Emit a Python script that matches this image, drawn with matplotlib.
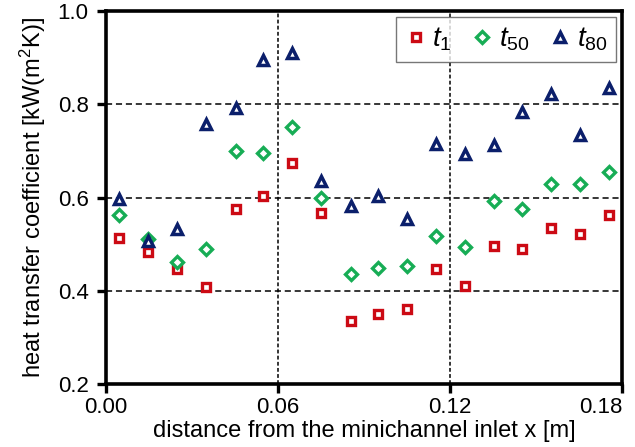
import matplotlib
matplotlib.use('Agg')
import matplotlib.pyplot as plt
from matplotlib.transforms import ScaledTranslation

plt.rcParams['font.family'] = ['Liberation Sans', 'DejaVu Sans']
plt.rcParams['mathtext.fontset'] = 'custom'
plt.rcParams['mathtext.it'] = 'Liberation Sans:italic'
plt.rcParams['mathtext.rm'] = 'Liberation Sans'

# distance from inlet [m]
x = [0.0047, 0.0148, 0.0249, 0.0350, 0.0452, 0.0546, 0.0649, 0.0751, 0.0853,
     0.0948, 0.1050, 0.1151, 0.1252, 0.1354, 0.1451, 0.1551, 0.1652, 0.1754]

# heat transfer coefficient [kW/(m2K)]
t1 = [0.514, 0.483, 0.446, 0.409, 0.576, 0.603, 0.675, 0.566, 0.336,
      0.350, 0.360, 0.446, 0.411, 0.496, 0.490, 0.534, 0.521, 0.562]
t50 = [0.562, 0.510, 0.461, 0.489, 0.699, 0.695, 0.751, 0.599, 0.436,
       0.449, 0.454, 0.518, 0.493, 0.592, 0.575, 0.629, 0.629, 0.654]
t80 = [0.597, 0.506, 0.532, 0.758, 0.793, 0.895, 0.910, 0.635, 0.582,
       0.604, 0.553, 0.715, 0.694, 0.712, 0.783, 0.821, 0.733, 0.834]

xticks = [0.00, 0.06, 0.12, 0.18]
yticks = [0.2, 0.4, 0.6, 0.8, 1.0]

fig = plt.figure(figsize=(6.35, 4.47), dpi=100)
ax = fig.add_axes([106 / 635, 1 - 384 / 447, 516 / 635, 373 / 447])

ax.plot(x, t1, 's', ms=5.6, mfc='white', mec='#CC0A14', mew=2.4, label='$t_1$', zorder=3)
ax.plot(x, t50, 'D', ms=5.8, mfc='white', mec='#17AD55', mew=2.4, label='$t_{50}$', zorder=3)
ax.plot(x, t80, '^', ms=7.5, mfc='white', mec='#0B1F6B', mew=2.5, label='$t_{80}$', zorder=3)

ax.set_xlim(0, 0.18)
ax.set_ylim(0.2, 1.0)
ax.set_xticks(xticks)
ax.set_xticklabels(['%.2f' % v for v in xticks])
ax.set_yticks(yticks)
ax.set_yticklabels(['%.1f' % v for v in yticks])

# first and last x labels sit inside the axis ends, as in the original
labels = ax.get_xticklabels()
labels[0].set_transform(labels[0].get_transform() + ScaledTranslation(6 / 100, 0, fig.dpi_scale_trans))
labels[-1].set_horizontalalignment('right')
labels[-1].set_transform(labels[-1].get_transform() + ScaledTranslation(1 / 100, 0, fig.dpi_scale_trans))

for v in [0.4, 0.6, 0.8]:
    ax.axhline(v, color='black', lw=1.1, ls=(0, (4, 2.5)), zorder=1)
for v in [0.06, 0.12]:
    ax.axvline(v, color='black', lw=1.1, ls=(0, (2.5, 1.5)), zorder=1)

for s in ax.spines.values():
    s.set_linewidth(2.6)
ax.tick_params(direction='out', length=6.5, width=2.4, labelsize=16)
ax.tick_params(axis='y', pad=6)
ax.tick_params(axis='x', pad=3)

ax.set_xlabel('distance from the minichannel inlet x [m]', fontsize=17, labelpad=1)
ax.set_ylabel('heat transfer coefficient [kW(m$^2$K)]', fontsize=17, labelpad=7)

leg = ax.legend(loc='upper right', ncol=3, fontsize=20, frameon=True, fancybox=False,
                handletextpad=0.2, columnspacing=0.7, handlelength=0.8,
                borderpad=0.3, borderaxespad=0, bbox_to_anchor=(0.988, 0.983))
leg.get_frame().set_edgecolor('#555555')
leg.get_frame().set_linewidth(1.0)

fig.savefig('out.png', dpi=100)
